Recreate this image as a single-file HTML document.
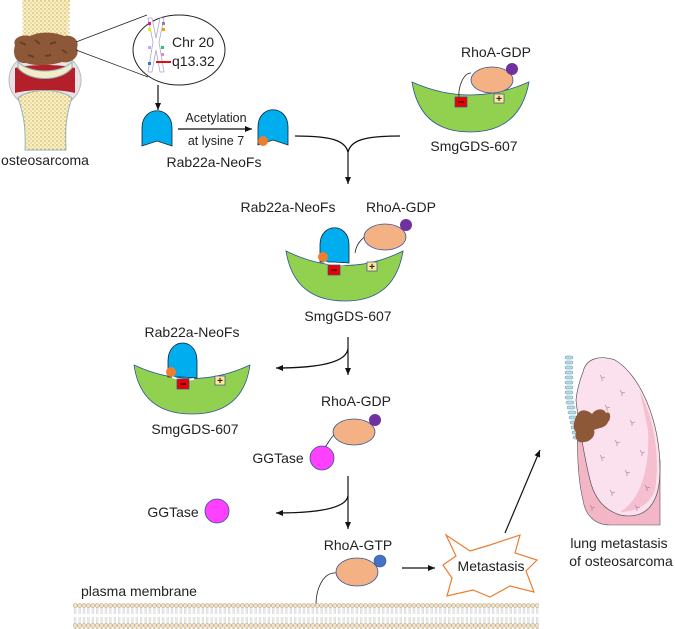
<!DOCTYPE html>
<html><head><meta charset="utf-8"><style>
html,body{margin:0;padding:0;background:#fff;}
svg{display:block;}
text{font-family:"Liberation Sans",Arial,sans-serif;fill:#222;}
</style></head><body>
<svg width="675" height="629" viewBox="0 0 675 629" xmlns="http://www.w3.org/2000/svg">
<defs>
<marker id="ah" markerWidth="8" markerHeight="8" refX="7" refY="4" orient="auto" markerUnits="userSpaceOnUse">
<path d="M0,1 L7,4 L0,7 Z" fill="#111"/></marker>
<pattern id="dots" width="4" height="4" patternUnits="userSpaceOnUse">
<circle cx="1" cy="1" r="0.7" fill="#c9a13a"/><circle cx="3" cy="3" r="0.5" fill="#b08a30"/></pattern>
<pattern id="mem" width="4.4" height="25" patternUnits="userSpaceOnUse" x="73" y="603">
<circle cx="2.2" cy="2.5" r="2" fill="#f1e3c8" stroke="#b9a27c" stroke-width="0.5"/>
<circle cx="2.2" cy="22.5" r="2" fill="#f1e3c8" stroke="#b9a27c" stroke-width="0.5"/>
<path d="M1.5,4.5 V11 M2.9,4.5 V11 M1.5,14 V20.5 M2.9,14 V20.5" stroke="#bbb" stroke-width="0.5"/>
</pattern>
</defs>

<!-- bone/joint -->
<path d="M22,0 L70,0 C68,20 66,40 70,62 L20,62 C24,40 24,20 22,0 Z" fill="#f8efc4"/>
<rect x="22" y="0" width="48" height="62" fill="url(#dots)"/>
<ellipse cx="45" cy="80" rx="36" ry="30" fill="#e9e1e6" stroke="#bbb"/>
<path d="M15,68 C30,64 60,64 75,68 L75,93 C60,89 30,89 15,93 Z" fill="#b3202a"/>
<path d="M18,62 C30,74 60,74 72,62 L72,68 C60,82 30,82 18,68 Z" fill="#f4ecc6" stroke="#8fb5c0" stroke-width="1"/>
<path d="M18,98 C30,88 60,88 72,98 C66,115 65,130 66,150 L25,150 C26,130 24,115 18,98 Z" fill="#f8efc4" stroke="#8fb5c0" stroke-width="1"/>
<path d="M18,98 C30,88 60,88 72,98 C66,115 65,130 66,150 L25,150 C26,130 24,115 18,98 Z" fill="url(#dots)"/>
<path d="M15,45 C12,38 22,34 30,36 C40,31 55,32 64,36 C72,34 80,40 77,48 C80,56 72,64 62,62 C50,66 35,66 26,63 C16,64 12,55 15,45 Z" fill="#8d5838"/>
<path d="M20,42 l6,3 M35,40 l5,4 M50,44 l6,-2 M62,50 l5,3 M28,55 l6,2 M45,56 l6,-1" stroke="#6b3e24" stroke-width="2"/>
<line x1="76" y1="42" x2="147" y2="15" stroke="#222" stroke-width="0.8"/>
<line x1="76" y1="50" x2="148" y2="77" stroke="#222" stroke-width="0.8"/>
<text x="45" y="165" font-size="14" text-anchor="middle">osteosarcoma</text>

<!-- chromosome circle -->
<ellipse cx="179" cy="50" rx="46" ry="35" fill="#fff" stroke="#222" stroke-width="1"/>
<path d="M148,18 L152,18 L156,38 L160,18 L164,18 L159,42 L164,72 L160,72 L156,50 L152,72 L148,72 L153,42 Z" fill="#fff" stroke="#aac" stroke-width="0.8"/>
<rect x="148" y="22" width="3" height="3" fill="#e91e8c"/><rect x="162" y="22" width="3" height="3" fill="#889"/>
<rect x="148" y="28" width="3" height="3" fill="#ee0"/><rect x="162" y="28" width="3" height="3" fill="#f90"/>
<rect x="148" y="46" width="3" height="3" fill="#b9b0ee"/><rect x="161" y="46" width="3" height="3" fill="#2c6"/>
<rect x="161" y="53" width="3" height="3" fill="#e8b"/><rect x="148" y="62" width="3" height="3" fill="#27e"/>
<line x1="156" y1="62" x2="171" y2="62" stroke="#e01010" stroke-width="2"/>
<text x="172" y="47" font-size="14">Chr 20</text>
<text x="172" y="66" font-size="14">q13.32</text>
<line x1="158" y1="85" x2="158" y2="110" stroke="#111" stroke-width="1.2" marker-end="url(#ah)"/>

<!-- Rab22a domes -->
<path d="M142,146 L142,128 C142,105 172,105 172,128 L172,146 L157,141 Z" fill="#00aeef" stroke="#123" stroke-width="0.8"/>
<path d="M178,129 L252,129" stroke="#111" stroke-width="1.2" marker-end="url(#ah)"/>
<text x="216" y="122" font-size="12.5" text-anchor="middle">Acetylation</text>
<text x="216" y="145" font-size="12.5" text-anchor="middle">at lysine 7</text>
<path d="M258,145 L258,127 C258,104 288,104 288,127 L288,145 L273,140 Z" fill="#00aeef" stroke="#123" stroke-width="0.8"/>
<circle cx="263" cy="141" r="5" fill="#ed7d31"/>
<text x="214" y="167" font-size="14" text-anchor="middle">Rab22a-NeoFs</text>

<!-- top right complex -->
<path d="M412,82 Q470,108 529,82 Q520,132 470,132 Q420,132 412,82 Z" fill="#92d050" stroke="#2e5597" stroke-width="0.8"/>
<path d="M471,73 C463,73 458,88 459,97" fill="none" stroke="#222" stroke-width="0.8"/>
<ellipse cx="492" cy="80" rx="21" ry="13" fill="#f4b183" stroke="#2e5597" stroke-width="0.8"/>
<circle cx="512" cy="69" r="6" fill="#7030a0"/>
<rect x="455" y="97" width="12" height="10" fill="#e00" stroke="#2e5597" stroke-width="0.7"/>
<line x1="458" y1="102" x2="464" y2="102" stroke="#000" stroke-width="1.2"/>
<rect x="494" y="94" width="10" height="9" fill="#ffe699" stroke="#2e5597" stroke-width="0.7"/>
<text x="499" y="102" font-size="10" text-anchor="middle" font-weight="bold">+</text>
<text x="496" y="57" font-size="14" text-anchor="middle">RhoA-GDP</text>
<text x="474" y="151" font-size="14" text-anchor="middle">SmgGDS-607</text>

<!-- merge -->
<path d="M295,136 C330,136 345,140 348,152 C351,140 365,136 400,136" fill="none" stroke="#111" stroke-width="1.3"/>
<line x1="348" y1="150" x2="348" y2="184" stroke="#111" stroke-width="1.2" marker-end="url(#ah)"/>

<!-- middle complex -->
<text x="288" y="212" font-size="14" text-anchor="middle">Rab22a-NeoFs</text>
<text x="401" y="212" font-size="14" text-anchor="middle">RhoA-GDP</text>
<path d="M286,251 Q345,280 403,251 Q395,301 345,301 Q294,301 286,251 Z" fill="#92d050" stroke="#2e5597" stroke-width="0.8"/>
<path d="M320,262 L320,245 C320,222 349,222 349,245 L349,263 L334,262 Z" fill="#00aeef" stroke="#123" stroke-width="0.8"/>
<path d="M324,262 Q334,266 346,264" stroke="#fff" stroke-width="2" fill="none"/>
<circle cx="323" cy="257" r="5" fill="#ed7d31"/>
<path d="M366,236 C360,240 356,246 355,253" fill="none" stroke="#222" stroke-width="0.8"/>
<ellipse cx="385" cy="237" rx="21" ry="13" fill="#f4b183" stroke="#2e5597" stroke-width="0.8"/>
<circle cx="406" cy="225" r="6" fill="#7030a0"/>
<rect x="328" y="265" width="12" height="10" fill="#e00" stroke="#2e5597" stroke-width="0.7"/>
<line x1="331" y1="270" x2="337" y2="270" stroke="#000" stroke-width="1.2"/>
<rect x="367" y="262" width="10" height="9" fill="#ffe699" stroke="#2e5597" stroke-width="0.7"/>
<text x="372" y="270" font-size="10" text-anchor="middle" font-weight="bold">+</text>
<text x="348" y="321" font-size="14" text-anchor="middle">SmgGDS-607</text>

<!-- split 1 -->
<line x1="348" y1="337" x2="348" y2="375" stroke="#111" stroke-width="1.2" marker-end="url(#ah)"/>
<path d="M348,349 C346,362 320,368 276,368" fill="none" stroke="#111" stroke-width="1.3" marker-end="url(#ah)"/>

<!-- left complex -->
<text x="192" y="337" font-size="14" text-anchor="middle">Rab22a-NeoFs</text>
<path d="M134,365 Q192,392 250,365 Q243,414 192,414 Q141,414 134,365 Z" fill="#92d050" stroke="#2e5597" stroke-width="0.8"/>
<path d="M168,377 L168,361 C168,337 197,337 197,361 L197,378 L182,377 Z" fill="#00aeef" stroke="#123" stroke-width="0.8"/>
<path d="M172,377 Q182,381 194,379" stroke="#fff" stroke-width="2" fill="none"/>
<circle cx="171" cy="372" r="5" fill="#ed7d31"/>
<rect x="177" y="379" width="12" height="10" fill="#e00" stroke="#2e5597" stroke-width="0.7"/>
<line x1="180" y1="384" x2="186" y2="384" stroke="#000" stroke-width="1.2"/>
<rect x="215" y="376" width="10" height="9" fill="#ffe699" stroke="#2e5597" stroke-width="0.7"/>
<text x="220" y="384" font-size="10" text-anchor="middle" font-weight="bold">+</text>
<text x="195" y="434" font-size="14" text-anchor="middle">SmgGDS-607</text>

<!-- RhoA-GDP + GGTase -->
<text x="356" y="406" font-size="14" text-anchor="middle">RhoA-GDP</text>
<path d="M335,434 C330,438 328,444 325,447" fill="none" stroke="#222" stroke-width="0.8"/>
<ellipse cx="354" cy="432" rx="21" ry="13" fill="#f4b183" stroke="#2e5597" stroke-width="0.8"/>
<circle cx="375" cy="420" r="6" fill="#7030a0"/>
<circle cx="322" cy="458" r="12" fill="#ff40ff" stroke="#2e5597" stroke-width="0.8"/>
<text x="278" y="463" font-size="14" text-anchor="middle">GGTase</text>

<!-- split 2 -->
<line x1="348" y1="476" x2="348" y2="529" stroke="#111" stroke-width="1.2" marker-end="url(#ah)"/>
<path d="M348,496 C346,508 320,513 276,513" fill="none" stroke="#111" stroke-width="1.3" marker-end="url(#ah)"/>
<text x="173" y="517" font-size="14" text-anchor="middle">GGTase</text>
<circle cx="217" cy="511" r="12" fill="#ff40ff" stroke="#2e5597" stroke-width="0.8"/>

<!-- RhoA-GTP -->
<text x="358" y="550" font-size="14" text-anchor="middle">RhoA-GTP</text>
<path d="M337,573 C328,572 322,578 318,590 C316,597 316,601 316,605" fill="none" stroke="#222" stroke-width="0.8"/>
<ellipse cx="357" cy="572" rx="21" ry="14" fill="#f4b183" stroke="#2e5597" stroke-width="0.8"/>
<circle cx="380" cy="561" r="6" fill="#4472c4" stroke="#2e5597" stroke-width="0.6"/>
<line x1="402" y1="568" x2="435" y2="568" stroke="#111" stroke-width="1.2" marker-end="url(#ah)"/>

<!-- Metastasis star -->
<path d="M446,535 L470,551 L490,545 L520,535 L515,553 L537,560 L526,571 L534,592 L510,586 L490,597 L473,590 L447,596 L452,578 L443,565 L456,556 Z" fill="#fff" stroke="#ed7d31" stroke-width="1.2"/>
<text x="491" y="571" font-size="14" text-anchor="middle">Metastasis</text>
<line x1="505" y1="533" x2="540" y2="450" stroke="#111" stroke-width="1.2" marker-end="url(#ah)"/>

<!-- lung -->
<path d="M580,400 C575,440 578,480 583,500 C585,515 595,525 610,525 L660,525 L660,460 C650,470 640,480 625,490 Z" fill="#f3b6c6" stroke="#555" stroke-width="0.6"/>
<path d="M583,372 C586,358 600,355 615,360 C640,375 660,420 660,470 C660,505 645,520 620,515 C605,510 595,500 590,480 C585,460 578,420 576,400 C577,390 580,380 583,372 Z" fill="#fbe1ee" stroke="#555" stroke-width="0.7"/>
<path d="M640,392 C655,420 660,460 655,490 C650,505 635,512 620,512 C640,500 650,470 648,430 Z" fill="#f4b6c8" opacity="0.8"/>
<g stroke="#a07090" stroke-width="0.6" fill="none">
<path d="M600,375 l2,3 l3,-1 M602,378 l0,3 M620,390 l2,3 l3,-1 M622,393 l0,3 M605,405 l2,3 l3,-1 M607,408 l0,3 M630,420 l2,3 l3,-1 M632,423 l0,3 M615,440 l2,3 l3,-1 M617,443 l0,3 M640,450 l2,3 l3,-1 M642,453 l0,3 M600,455 l2,3 l3,-1 M602,458 l0,3 M625,470 l2,3 l3,-1 M627,473 l0,3 M610,490 l2,3 l3,-1 M612,493 l0,3 M645,485 l2,3 l3,-1 M647,488 l0,3 M635,505 l2,3 l3,-1 M637,508 l0,3 M590,505 l2,3 l3,-1 M592,508 l0,3"/>
</g>
<g fill="#b5dbe8" stroke="#6a9aaa" stroke-width="0.5">
<rect x="565" y="356" width="8" height="3" rx="1.5"/><rect x="565" y="361" width="8" height="3" rx="1.5"/><rect x="565" y="366" width="8" height="3" rx="1.5"/><rect x="565" y="371" width="8" height="3" rx="1.5"/><rect x="565" y="376" width="8" height="3" rx="1.5"/><rect x="565" y="381" width="8" height="3" rx="1.5"/><rect x="565" y="386" width="8" height="3" rx="1.5"/><rect x="565" y="391" width="8" height="3" rx="1.5"/><rect x="565" y="396" width="8" height="3" rx="1.5"/><rect x="566" y="401" width="8" height="3" rx="1.5"/><rect x="567" y="406" width="8" height="3" rx="1.5"/><rect x="568" y="411" width="8" height="3" rx="1.5"/><rect x="569" y="416" width="8" height="3" rx="1.5"/><rect x="570" y="421" width="8" height="3" rx="1.5"/><rect x="571" y="426" width="8" height="3" rx="1.5"/><rect x="572" y="431" width="8" height="3" rx="1.5"/><rect x="573" y="436" width="8" height="3" rx="1.5"/>
</g>
<path d="M577,415 C580,408 588,410 592,414 C596,408 604,408 606,413 C610,410 612,418 608,422 C606,428 598,428 594,430 C596,436 590,442 584,442 C578,444 574,438 576,432 C572,428 574,420 577,415 Z" fill="#8d5838"/>

<text x="619" y="548" font-size="14" text-anchor="middle">lung metastasis</text>
<text x="621" y="566" font-size="14" text-anchor="middle">of osteosarcoma</text>

<!-- membrane -->
<text x="81" y="596" font-size="14">plasma membrane</text>
<rect x="73" y="603" width="466" height="26" fill="url(#mem)"/>
</svg>
</body></html>
